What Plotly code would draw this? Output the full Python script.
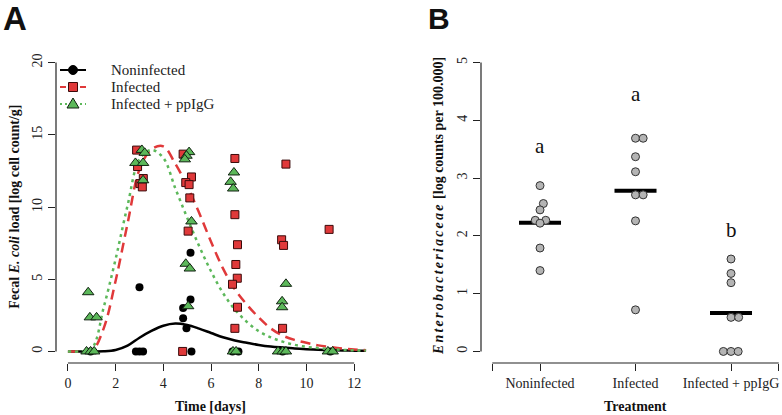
import numpy as np
import plotly.graph_objs as go

# ---- Panel A: fecal E. coli load over time ----
# individual measurements (day, log cell count/g)
non_days = [0.95, 3.0, 2.85, 3.0, 3.15, 5.14, 5.14, 4.83, 4.83, 4.97, 5.18, 6.9, 7.15, 9.0, 11.0]
non_vals = [0, 4.44, 0, 0, 0, 6.83, 3.59, 3.01, 2.29, 1.6, 0, 0, 0, 0, 0]

inf_days = [2.88, 2.92, 3.16, 3.02, 3.12,
            4.83, 5.18, 4.94, 5.08, 5.11, 5.04, 4.81,
            7.0, 7.0, 7.11, 7.04, 7.1, 6.9, 7.11, 7.0,
            9.14, 8.96, 9.04, 9.0, 10.95]
inf_vals = [13.94, 12.8, 11.97, 11.62, 11.39,
            13.66, 12.08, 11.69, 11.55, 10.63, 8.33, 0,
            13.36, 9.47, 7.39, 6.02, 5.07, 4.65, 3.06, 1.6,
            12.97, 7.73, 7.34, 1.6, 8.45]

igg_days = [0.85, 0.92, 1.2, 0.78, 0.95, 1.1,
            3.1, 3.22, 2.83, 3.15, 3.15,
            5.08, 4.97, 4.9, 5.18, 4.94, 5.11, 5.04,
            6.96, 6.82, 6.93, 6.92, 7.05,
            9.14, 8.98, 8.98, 8.81, 9.0, 9.14,
            10.9, 11.1]
igg_vals = [4.1, 2.36, 2.36, 0, 0, 0,
            13.95, 13.75, 13.05, 13.05, 11.85,
            13.8, 13.55, 13.3, 9.0, 6.07, 5.74, 3.13,
            12.39, 11.74, 11.28, 0, 0,
            4.68, 3.47, 3.06, 0, 0, 0,
            0, 0]

# fitted curves
fit_days = [0, 0.5, 1, 1.5, 2, 2.5, 3, 3.5, 4, 4.5, 5, 5.5, 6, 6.5, 7, 7.5,
            8, 8.5, 9, 9.5, 10, 10.5, 11, 11.5, 12, 12.5]
fit_non = [0, 0, 0, 0.01, 0.1, 0.4, 0.95, 1.42, 1.78, 1.93, 1.83, 1.58, 1.28, 0.98,
           0.76, 0.6, 0.45, 0.34, 0.27, 0.21, 0.16, 0.12, 0.09, 0.07, 0.05, 0.04]
fit_inf = [0, 0, 0.02, 1.6, 4.9, 8.85, 12.6, 14.0, 14.2, 13.0, 11.45, 9.6, 7.6, 5.75,
           4.3, 3.25, 2.35, 1.6, 1.1, 0.8, 0.6, 0.42, 0.3, 0.2, 0.13, 0.09]
fit_igg = [0, 0, 0.2, 3.05, 6.4, 10.1, 13.3, 13.95, 13.4, 11.3, 9.25, 7.3, 5.55, 4.05,
           2.9, 2.05, 1.4, 0.98, 0.68, 0.46, 0.32, 0.23, 0.16, 0.11, 0.08, 0.06]

group_names = ['Noninfected', 'Infected', 'Infected + ppIgG']

# ---- Panel B: Enterobacteriaceae ----
b_non = [2.87, 2.56, 2.45, 2.27, 2.27, 2.22, 1.79, 1.40]
b_inf = [3.69, 3.69, 3.37, 3.11, 2.71, 2.71, 2.26, 0.72]
b_igg = [1.60, 1.35, 1.19, 0.59, 0.59, 0, 0, 0]
# beeswarm offsets of the dots
b_non_off = [0, 0.035, 0, -0.05, 0.06, 0, 0, 0]
b_inf_off = [0, 0.08, 0, 0, 0, 0.08, 0, 0]
b_igg_off = [0, 0, 0, 0, 0.08, -0.08, 0, 0.075]
b_letters = ['a', 'a', 'b']

SERIF = 'Liberation Serif'
RED = '#e0393a'
GREEN = '#5cb85a'
AX = '#222222'

W, H = 782, 415
MT, MB = 51, 52
PH = H - MT - MB


def px_x(v):
    # pixel -> paper x (no left/right margin)
    return v / W


def px_y(v):
    # pixel -> paper y
    return (H - MB - v) / PH


def panel_a(fig):
    # curves
    fig.add_trace(go.Scatter(x=fit_days, y=fit_non, mode='lines', line_shape='spline',
                             line=dict(color='black', width=2.5),
                             xaxis='x', yaxis='y'))
    fig.add_trace(go.Scatter(x=fit_days, y=fit_inf, mode='lines', line_shape='spline',
                             line=dict(color=RED, width=2.5, dash='10px,6px'),
                             xaxis='x', yaxis='y'))
    fig.add_trace(go.Scatter(x=fit_days, y=fit_igg, mode='lines', line_shape='spline',
                             line=dict(color=GREEN, width=2.5, dash='3px,4px'),
                             xaxis='x', yaxis='y'))
    # points
    fig.add_trace(go.Scatter(x=non_days, y=non_vals, mode='markers',
                             marker=dict(symbol='circle', size=8, color='black'),
                             xaxis='x', yaxis='y'))
    fig.add_trace(go.Scatter(x=inf_days, y=inf_vals, mode='markers',
                             marker=dict(symbol='square', size=8, color=RED,
                                         line=dict(color='#3a0a0a', width=1)),
                             xaxis='x', yaxis='y'))
    fig.add_trace(go.Scatter(x=igg_days, y=igg_vals, mode='markers',
                             marker=dict(symbol='triangle-up', size=10, color=GREEN,
                                         line=dict(color='#112211', width=1)),
                             xaxis='x', yaxis='y'))


def legend_a():
    # R-style legend drawn as shapes + text (rows at 70, 87, 104 px)
    shapes, notes = [], []
    rows = [70, 87, 104]
    lines = [dict(color='black', width=2), dict(color=RED, width=2, dash='6px,4px'),
             dict(color=GREEN, width=2, dash='2px,3px')]
    for name, r, ln in zip(group_names, rows, lines):
        shapes.append(dict(type='line', xref='paper', yref='paper',
                           x0=px_x(60), x1=px_x(86), y0=px_y(r), y1=px_y(r), line=ln))
        notes.append(dict(x=px_x(109), y=px_y(r), text=name, xanchor='left',
                          font=dict(family=SERIF, size=15, color='#222')))
    base = dict(xref='paper', yref='paper', xsizemode='pixel', ysizemode='pixel',
                xanchor=px_x(73))
    shapes.append(dict(base, type='circle', yanchor=px_y(rows[0]), x0=-4.5, x1=4.5,
                       y0=-4.5, y1=4.5, fillcolor='black', line=dict(color='black', width=1)))
    shapes.append(dict(base, type='rect', yanchor=px_y(rows[1]), x0=-4.5, x1=4.5,
                       y0=-4.5, y1=4.5, fillcolor=RED, line=dict(color='#3a0a0a', width=1)))
    shapes.append(dict(base, type='path', yanchor=px_y(rows[2]),
                       path='M-6,-4 L6,-4 L0,6 Z', fillcolor=GREEN,
                       line=dict(color='#112211', width=1)))
    return shapes, notes


def panel_b(fig):
    groups = [(b_non, b_non_off), (b_inf, b_inf_off), (b_igg, b_igg_off)]
    for i, (vals, off) in enumerate(groups):
        pos = i + 1
        m = float(np.mean(vals))
        fig.add_trace(go.Scatter(x=[pos - 0.22, pos + 0.22], y=[m, m], mode='lines',
                                 line=dict(color='black', width=4),
                                 xaxis='x2', yaxis='y2'))
        fig.add_trace(go.Scatter(x=[pos + o for o in off], y=vals, mode='markers',
                                 marker=dict(symbol='circle', size=8, color='#b4b4b4',
                                             line=dict(color='#333333', width=1)),
                                 xaxis='x2', yaxis='y2'))
    letter_y = [3.55, 4.45, 2.11]
    for i, (lab, ly) in enumerate(zip(b_letters, letter_y)):
        fig.add_annotation(x=i + 1, y=ly, xref='x2', yref='y2', text=lab, showarrow=False,
                           font=dict(family=SERIF, size=21, color='#111'))


def main():
    fig = go.Figure()
    panel_a(fig)
    panel_b(fig)

    tick_font = dict(family=SERIF, size=14, color='#222')
    common = dict(showgrid=False, zeroline=False, showline=False, ticks='outside',
                  ticklen=7, tickwidth=1.2, tickcolor=AX, tickfont=tick_font,
                  automargin=False)

    layout = go.Layout(
        width=W, height=H,
        margin=dict(l=0, r=0, t=MT, b=MB),
        template='none',
        paper_bgcolor='white', plot_bgcolor='white',
        showlegend=False,
        xaxis=dict(domain=[56 / W, 378 / W], range=[-0.5, 13], anchor='y',
                   tickvals=[0, 2, 4, 6, 8, 10, 12], **common),
        yaxis=dict(domain=[0, 1], range=[-0.8, 20.8], anchor='x',
                   tickvals=[0, 5, 10, 15, 20], tickangle=-90, **common),
        xaxis2=dict(domain=[481 / W, 1], range=[0.382, 3.534], anchor='y2',
                    tickvals=[0.5, 1, 2, 3, 3.5],
                    ticktext=['', group_names[0], group_names[1], group_names[2], ''],
                    **common),
        yaxis2=dict(domain=[0, 1], range=[-0.2, 5.2], anchor='x2',
                    tickvals=[0, 1, 2, 3, 4, 5], tickangle=-90, **common),
    )

    shapes = [
        dict(type='line', xref='x', yref='y domain', x0=0, x1=12, y0=0, y1=0,
             line=dict(color=AX, width=1.2)),
        dict(type='line', xref='x domain', yref='y', x0=0, x1=0, y0=0, y1=20,
             line=dict(color=AX, width=1.2)),
        dict(type='line', xref='x2', yref='y2 domain', x0=0.5, x1=3.5, y0=0, y1=0,
             line=dict(color=AX, width=1.2)),
        dict(type='line', xref='x2 domain', yref='y2', x0=0, x1=0, y0=0, y1=5,
             line=dict(color=AX, width=1.2)),
    ]
    leg_shapes, leg_notes = legend_a()
    shapes += leg_shapes

    title_font = dict(family=SERIF, size=14, color='#111')
    annotations = [
        dict(x=px_x(15), y=px_y(19), text='<b>A</b>',
             font=dict(family='Liberation Sans', size=33, color='#111')),
        dict(x=px_x(439), y=px_y(19), text='<b>B</b>',
             font=dict(family='Liberation Sans', size=30, color='#111')),
        dict(x=px_x(15), y=px_y(206.7), textangle=-90, font=title_font,
             text='<b>Fecal <i>E. coli</i> load [log cell count/g]</b>'),
        dict(x=px_x(211), y=px_y(406), text='<b>Time [days]</b>', font=title_font),
        dict(x=px_x(438), y=px_y(206), textangle=-90, font=title_font,
             text='<b><i><span style="letter-spacing:2.2px">Enterobacteriaceae</span></i>'
                  ' [log counts per 100.000]</b>'),
        dict(x=px_x(635), y=px_y(406), text='<b>Treatment</b>', font=title_font),
    ] + leg_notes
    for a in annotations:
        a.setdefault('xanchor', 'center')
        a.update(xref='paper', yref='paper', showarrow=False, yanchor='middle')

    fig.update_layout(layout)
    fig.update_layout(shapes=shapes)
    for a in annotations:
        fig.add_annotation(a)

    fig.write_html('out.html', config={'displayModeBar': False},
                   post_script="document.body.style.margin='0';")


if __name__ == '__main__':
    main()
